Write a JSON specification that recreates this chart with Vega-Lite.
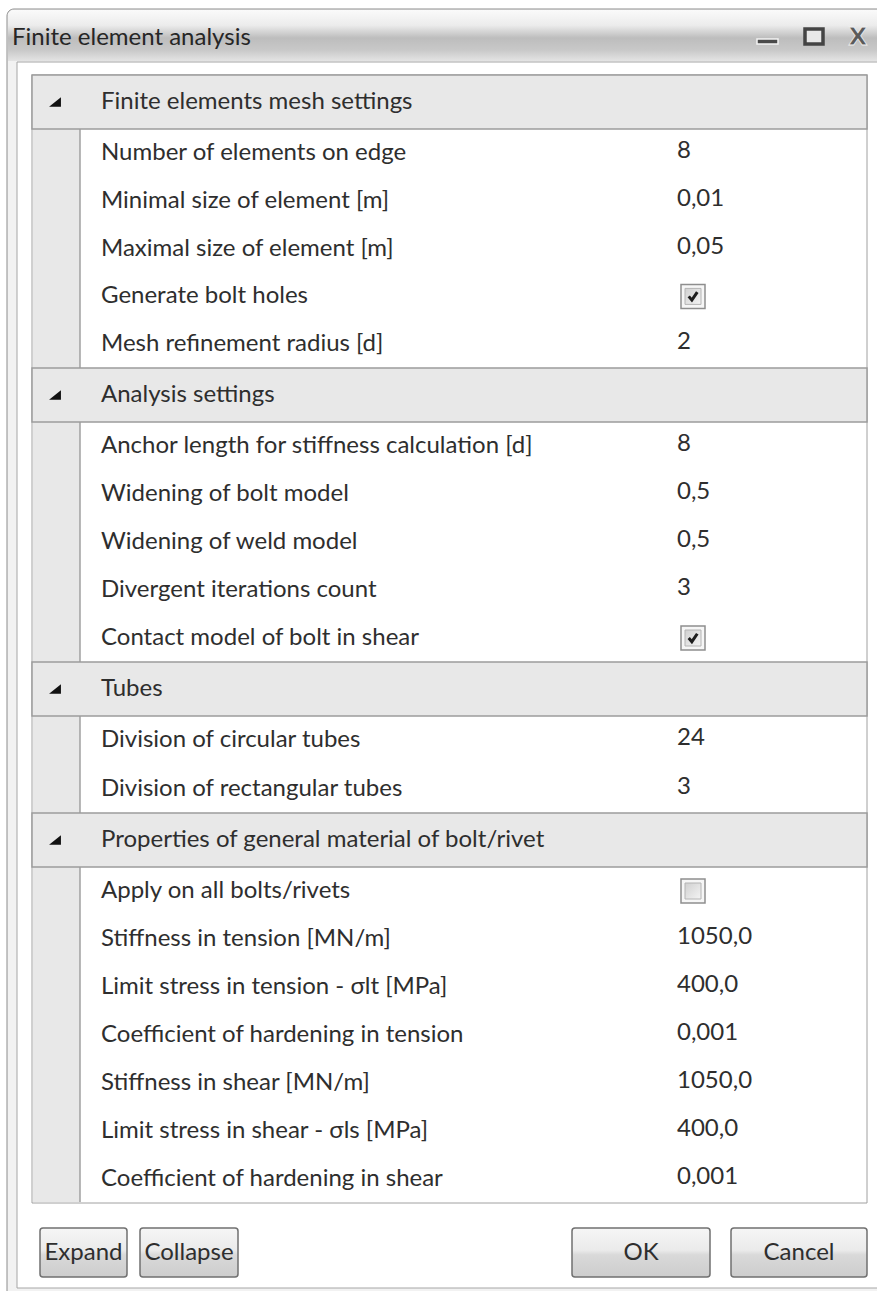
{
  "$schema": "https://vega.github.io/schema/vega-lite/v6.json",
  "width": 877,
  "height": 1291,
  "padding": 0,
  "autosize": {"type": "none"},
  "background": "white",
  "config": {"view": {"stroke": null}, "text": {"font": "Lato", "fontSize": 24, "color": "#2e2e2e"}},
  "datasets": {
    "grid": [
      {"i": 0, "kind": "header", "label": "Finite elements mesh settings", "value": "", "check": ""},
      {"i": 1, "kind": "row", "label": "Number of elements on edge", "value": "8", "check": ""},
      {"i": 2, "kind": "row", "label": "Minimal size of element [m]", "value": "0,01", "check": ""},
      {"i": 3, "kind": "row", "label": "Maximal size of element [m]", "value": "0,05", "check": ""},
      {"i": 4, "kind": "row", "label": "Generate bolt holes", "value": "", "check": "on"},
      {"i": 5, "kind": "row", "label": "Mesh refinement radius [d]", "value": "2", "check": ""},
      {"i": 6, "kind": "header", "label": "Analysis settings", "value": "", "check": ""},
      {"i": 7, "kind": "row", "label": "Anchor length for stiffness calculation [d]", "value": "8", "check": ""},
      {"i": 8, "kind": "row", "label": "Widening of bolt model", "value": "0,5", "check": ""},
      {"i": 9, "kind": "row", "label": "Widening of weld model", "value": "0,5", "check": ""},
      {"i": 10, "kind": "row", "label": "Divergent iterations count", "value": "3", "check": ""},
      {"i": 11, "kind": "row", "label": "Contact model of bolt in shear", "value": "", "check": "on"},
      {"i": 12, "kind": "header", "label": "Tubes", "value": "", "check": ""},
      {"i": 13, "kind": "row", "label": "Division of circular tubes", "value": "24", "check": ""},
      {"i": 14, "kind": "row", "label": "Division of rectangular tubes", "value": "3", "check": ""},
      {"i": 15, "kind": "header", "label": "Properties of general material of bolt/rivet", "value": "", "check": ""},
      {"i": 16, "kind": "row", "label": "Apply on all bolts/rivets", "value": "", "check": "off"},
      {"i": 17, "kind": "row", "label": "Stiffness in tension [MN/m]", "value": "1050,0", "check": ""},
      {"i": 18, "kind": "row", "label": "Limit stress in tension - σlt [MPa]", "value": "400,0", "check": ""},
      {"i": 19, "kind": "row", "label": "Coefficient of hardening in tension", "value": "0,001", "check": ""},
      {"i": 20, "kind": "row", "label": "Stiffness in shear [MN/m]", "value": "1050,0", "check": ""},
      {"i": 21, "kind": "row", "label": "Limit stress in shear - σls [MPa]", "value": "400,0", "check": ""},
      {"i": 22, "kind": "row", "label": "Coefficient of hardening in shear", "value": "0,001", "check": ""}
    ]
  },
  "layer": [
    {
      "data": {"values": [{"t": "Finite element analysis"}]},
      "layer": [
        {"mark": {"type": "rect", "fill": "#f2f2f2", "stroke": "#8c8c8c", "strokeWidth": 1, "cornerRadiusTopLeft": 7},
         "encoding": {"x": {"value": 7}, "x2": {"value": 920}, "y": {"value": 9}, "y2": {"value": 1320}}},
        {"mark": {"type": "rect", "cornerRadiusTopLeft": 6, "fill": {"gradient": "linear", "x1": 0, "y1": 0, "x2": 0, "y2": 1, "stops": [{"offset": 0, "color": "#fafafa"}, {"offset": 0.3, "color": "#ececec"}, {"offset": 0.55, "color": "#bdbdbd"}, {"offset": 0.78, "color": "#c8c8c8"}, {"offset": 1, "color": "#e4e4e4"}]}},
         "encoding": {"x": {"value": 8}, "x2": {"value": 920}, "y": {"value": 10}, "y2": {"value": 61}}},
        {"mark": {"type": "text", "align": "left", "baseline": "middle", "fontSize": 24, "color": "#262626"},
         "encoding": {"x": {"value": 12}, "y": {"value": 38}, "text": {"field": "t"}}},
        {"mark": {"type": "rect", "fill": "#4a4a4a", "stroke": "#f4f4f4", "strokeWidth": 1.5},
         "encoding": {"x": {"value": 757}, "x2": {"value": 778}, "y": {"value": 39}, "y2": {"value": 44}}},
        {"mark": {"type": "rect", "fill": "#e8e8e8", "stroke": "#444444", "strokeWidth": 3.5},
         "encoding": {"x": {"value": 805}, "x2": {"value": 823}, "y": {"value": 29}, "y2": {"value": 44}}},
        {"mark": {"type": "text", "align": "center", "baseline": "middle", "fontSize": 25, "fontWeight": "bold", "font": "DejaVu Sans", "color": "#5a5a5a", "stroke": "#f0f0f0", "strokeWidth": 0.8, "text": "X"},
         "encoding": {"x": {"value": 858}, "y": {"value": 37}}},
        {"mark": {"type": "rect", "fill": "white", "stroke": "#a6a6a6", "strokeWidth": 1},
         "encoding": {"x": {"value": 17}, "x2": {"value": 920}, "y": {"value": 62}, "y2": {"value": 1288}}},
        {"mark": {"type": "rect", "fill": "white", "stroke": "#a0a0a0", "strokeWidth": 1},
         "encoding": {"x": {"value": 32}, "x2": {"value": 867}, "y": {"value": 75}, "y2": {"value": 1203}}},
        {"mark": {"type": "rect", "fill": "#e8e8e8"},
         "encoding": {"x": {"value": 33}, "x2": {"value": 80}, "y": {"value": 76}, "y2": {"value": 1202}}},
        {"mark": {"type": "rule", "stroke": "#a0a0a0", "strokeWidth": 1.5},
         "encoding": {"x": {"value": 80}, "y": {"value": 76}, "y2": {"value": 1202}}}
      ]
    },
    {
      "data": {"name": "grid"},
      "encoding": {
        "y": {"field": "i", "type": "quantitative", "axis": null,
              "scale": {"domain": [0, 1, 6, 7, 12, 13, 15, 16, 23], "range": [75, 129, 368, 422, 662, 716, 813, 867, 1203], "zero": false, "nice": false}}
      },
      "layer": [
        {"transform": [{"filter": "datum.kind == 'header'"}],
         "mark": {"type": "rect", "fill": "#e8e8e8", "stroke": "#9c9c9c", "strokeWidth": 1.5, "y2Offset": 54},
         "encoding": {"x": {"value": 32}, "x2": {"value": 867}, "y2": {"field": "i"}}},
        {"transform": [{"filter": "datum.kind == 'header'"}],
         "mark": {"type": "point", "shape": "M 1 -0.8 L 1 0.8 L -1 0.8 Z", "filled": true, "color": "#111111", "size": 140, "yOffset": 27, "opacity": 1},
         "encoding": {"x": {"value": 55}}},
        {"transform": [{"filter": "datum.kind == 'header'"}],
         "mark": {"type": "text", "align": "left", "baseline": "middle", "dy": 27},
         "encoding": {"x": {"value": 101}, "text": {"field": "label"}}},
        {"transform": [{"filter": "datum.kind == 'row'"}],
         "mark": {"type": "text", "align": "left", "baseline": "middle", "dy": 24},
         "encoding": {"x": {"value": 101}, "text": {"field": "label"}}},
        {"transform": [{"filter": "datum.kind == 'row' && datum.value != ''"}],
         "mark": {"type": "text", "align": "left", "baseline": "middle", "dy": 22},
         "encoding": {"x": {"value": 677}, "text": {"field": "value"}}},
        {"transform": [{"filter": "datum.check != ''"}],
         "mark": {"type": "rect", "fill": "#f6f6f6", "stroke": "#8e8e8e", "strokeWidth": 1.5, "yOffset": 12, "y2Offset": 36},
         "encoding": {"x": {"value": 681}, "x2": {"value": 705}, "y2": {"field": "i"}}},
        {"transform": [{"filter": "datum.check != ''"}],
         "mark": {"type": "rect", "fill": {"gradient": "linear", "x1": 0, "y1": 0, "x2": 1, "y2": 1, "stops": [{"offset": 0, "color": "#d0d0d0"}, {"offset": 1, "color": "#f4f4f4"}]}, "stroke": "#b4b4b4", "strokeWidth": 1, "yOffset": 16, "y2Offset": 32},
         "encoding": {"x": {"value": 685}, "x2": {"value": 701}, "y2": {"field": "i"}}},
        {"transform": [{"filter": "datum.check == 'on'"}],
         "mark": {"type": "point", "shape": "M -0.75 0 L -0.2 0.65 L 0.75 -0.75", "filled": false, "stroke": "#1e1e1e", "strokeWidth": 3, "size": 130, "yOffset": 24, "opacity": 1},
         "encoding": {"x": {"value": 693}}}
      ]
    },
    {
      "data": {"values": [{"b": "Expand"}]},
      "layer": [
        {"mark": {"type": "rect", "cornerRadius": 3, "stroke": "#707070", "strokeWidth": 1.5, "fill": {"gradient": "linear", "x1": 0, "y1": 0, "x2": 0, "y2": 1, "stops": [{"offset": 0, "color": "#f6f6f6"}, {"offset": 0.45, "color": "#ebebeb"}, {"offset": 0.55, "color": "#d9d9d9"}, {"offset": 1, "color": "#cdcdcd"}]}},
         "encoding": {"x": {"value": 40}, "x2": {"value": 127}, "y": {"value": 1228}, "y2": {"value": 1277}}},
        {"mark": {"type": "text", "align": "center", "baseline": "middle"},
         "encoding": {"x": {"value": 83.5}, "y": {"value": 1253}, "text": {"field": "b"}}}
      ]
    },
    {
      "data": {"values": [{"b": "Collapse"}]},
      "layer": [
        {"mark": {"type": "rect", "cornerRadius": 3, "stroke": "#707070", "strokeWidth": 1.5, "fill": {"gradient": "linear", "x1": 0, "y1": 0, "x2": 0, "y2": 1, "stops": [{"offset": 0, "color": "#f6f6f6"}, {"offset": 0.45, "color": "#ebebeb"}, {"offset": 0.55, "color": "#d9d9d9"}, {"offset": 1, "color": "#cdcdcd"}]}},
         "encoding": {"x": {"value": 140}, "x2": {"value": 238}, "y": {"value": 1228}, "y2": {"value": 1277}}},
        {"mark": {"type": "text", "align": "center", "baseline": "middle"},
         "encoding": {"x": {"value": 189}, "y": {"value": 1253}, "text": {"field": "b"}}}
      ]
    },
    {
      "data": {"values": [{"b": "OK"}]},
      "layer": [
        {"mark": {"type": "rect", "cornerRadius": 3, "stroke": "#707070", "strokeWidth": 1.5, "fill": {"gradient": "linear", "x1": 0, "y1": 0, "x2": 0, "y2": 1, "stops": [{"offset": 0, "color": "#f6f6f6"}, {"offset": 0.45, "color": "#ebebeb"}, {"offset": 0.55, "color": "#d9d9d9"}, {"offset": 1, "color": "#cdcdcd"}]}},
         "encoding": {"x": {"value": 572}, "x2": {"value": 710}, "y": {"value": 1228}, "y2": {"value": 1277}}},
        {"mark": {"type": "text", "align": "center", "baseline": "middle"},
         "encoding": {"x": {"value": 641}, "y": {"value": 1253}, "text": {"field": "b"}}}
      ]
    },
    {
      "data": {"values": [{"b": "Cancel"}]},
      "layer": [
        {"mark": {"type": "rect", "cornerRadius": 3, "stroke": "#707070", "strokeWidth": 1.5, "fill": {"gradient": "linear", "x1": 0, "y1": 0, "x2": 0, "y2": 1, "stops": [{"offset": 0, "color": "#f6f6f6"}, {"offset": 0.45, "color": "#ebebeb"}, {"offset": 0.55, "color": "#d9d9d9"}, {"offset": 1, "color": "#cdcdcd"}]}},
         "encoding": {"x": {"value": 731}, "x2": {"value": 867}, "y": {"value": 1228}, "y2": {"value": 1277}}},
        {"mark": {"type": "text", "align": "center", "baseline": "middle"},
         "encoding": {"x": {"value": 799}, "y": {"value": 1253}, "text": {"field": "b"}}}
      ]
    }
  ]
}
